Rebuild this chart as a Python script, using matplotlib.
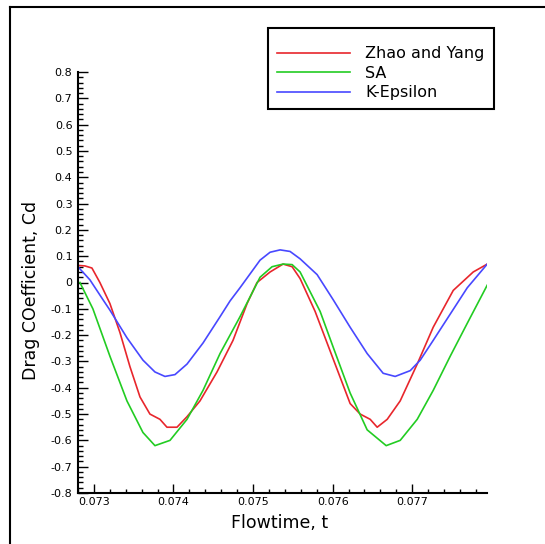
import matplotlib
matplotlib.use('Agg')
import matplotlib.pyplot as plt
from matplotlib.lines import Line2D
from matplotlib.ticker import MultipleLocator, FuncFormatter

plt.rcParams['font.family'] = ['DejaVu Sans']
plt.rcParams['axes.unicode_minus'] = False

# Zhao and Yang
t_zy = [0.072799, 0.072887, 0.072975, 0.073075, 0.073201, 0.073327, 0.073453, 0.073579,
        0.073704, 0.073830, 0.073918, 0.074044, 0.074170, 0.074333, 0.074547, 0.074748,
        0.074925, 0.075050, 0.075214, 0.075377, 0.075491, 0.075591, 0.075780, 0.076006,
        0.076220, 0.076346, 0.076472, 0.076560, 0.076686, 0.076849, 0.077063, 0.077264,
        0.077516, 0.077767, 0.077943]
cd_zy = [0.065, 0.063, 0.055, 0.0, -0.08, -0.19, -0.32, -0.435,
         -0.5, -0.52, -0.55, -0.55, -0.51, -0.45, -0.34, -0.22,
         -0.08, 0.0, 0.04, 0.07, 0.06, 0.015, -0.11, -0.29,
         -0.46, -0.5, -0.52, -0.55, -0.52, -0.45, -0.31, -0.17,
         -0.03, 0.04, 0.07]

# SA
t_sa = [0.072824, 0.072987, 0.073201, 0.073415, 0.073616, 0.073767, 0.073956, 0.074170,
        0.074371, 0.074585, 0.074836, 0.075088, 0.075239, 0.075377, 0.075491, 0.075591,
        0.075843, 0.076006, 0.076220, 0.076434, 0.076673, 0.076849, 0.077063, 0.077264,
        0.077478, 0.077692, 0.077943]
cd_sa = [0.0, -0.1, -0.28, -0.45, -0.57, -0.62, -0.6, -0.52,
         -0.41, -0.27, -0.13, 0.02, 0.06, 0.07, 0.068, 0.04,
         -0.11, -0.245, -0.42, -0.56, -0.62, -0.6, -0.52, -0.41,
         -0.28, -0.155, -0.01]

# K-Epsilon
t_ke = [0.072799, 0.072950, 0.073113, 0.073201, 0.073415, 0.073616, 0.073767, 0.073893,
        0.074019, 0.074170, 0.074371, 0.074585, 0.074711, 0.074836, 0.075088, 0.075214,
        0.075340, 0.075465, 0.075591, 0.075805, 0.076006, 0.076220, 0.076434, 0.076635,
        0.076786, 0.076975, 0.077101, 0.077264, 0.077478, 0.077692, 0.077943]
cd_ke = [0.06, 0.01, -0.065, -0.105, -0.21, -0.295, -0.34, -0.357,
         -0.35, -0.31, -0.23, -0.13, -0.07, -0.02, 0.085, 0.115,
         0.124, 0.118, 0.09, 0.03, -0.065, -0.17, -0.27, -0.345,
         -0.357, -0.335, -0.295, -0.22, -0.12, -0.02, 0.07]

fig = plt.figure(figsize=(5.45, 5.44), dpi=100)
ax = fig.add_axes([78/545, 1-493/544, 409/545, 421/544])

ax.plot(t_zy, cd_zy, color='#e8262c', lw=1.2, label='Zhao and Yang')
ax.plot(t_sa, cd_sa, color='#22cc22', lw=1.2, label='SA')
ax.plot(t_ke, cd_ke, color='#4848ff', lw=1.2, label='K-Epsilon')

ax.set_xlim(0.0728, 0.07794)
ax.set_ylim(-0.8, 0.8)
ax.spines['top'].set_visible(False)
ax.spines['right'].set_visible(False)
ax.spines['left'].set_linewidth(1.5)
ax.spines['bottom'].set_linewidth(1.5)

ax.xaxis.set_major_locator(MultipleLocator(0.001))
ax.xaxis.set_minor_locator(MultipleLocator(0.0002))
ax.yaxis.set_major_locator(MultipleLocator(0.1))
ax.yaxis.set_minor_locator(MultipleLocator(0.02))
ax.xaxis.set_major_formatter(FuncFormatter(lambda v, p: '%.3f' % v))
ax.yaxis.set_major_formatter(FuncFormatter(lambda v, p: '0' if abs(v) < 1e-9 else ('%.1f' % v)))

ax.tick_params(axis='y', which='major', direction='in', length=7, width=1, labelsize=8, pad=4)
ax.tick_params(axis='y', which='minor', direction='in', length=3.5, width=1)
ax.tick_params(axis='x', which='major', direction='in', length=6.2, width=1, labelsize=8, pad=3)
ax.tick_params(axis='x', which='minor', direction='in', length=3, width=1)

ax.set_xlabel('Flowtime, t', fontsize=12.5)
ax.set_ylabel('Drag COefficient, Cd', fontsize=12.5)
ax.xaxis.set_label_coords(0.494, -0.05)
ax.yaxis.set_label_coords(-0.093, 0.48)

leg = ax.legend(loc='upper left', bbox_to_anchor=(268/545, 1-28/544), bbox_transform=fig.transFigure,
                fontsize=11.5, title=' ', title_fontsize=3.5, borderpad=0.55, borderaxespad=0,
                handlelength=4.6, handletextpad=0.95, labelspacing=0.28,
                fancybox=False, edgecolor='black', framealpha=1)
leg.get_frame().set_linewidth(1.5)

# border round the figure (top and left)
fig.add_artist(Line2D([10/545, 1], [1-7/544, 1-7/544], color='black', lw=1.5, transform=fig.transFigure))
fig.add_artist(Line2D([10/545, 10/545], [0, 1-7/544], color='black', lw=1.5, transform=fig.transFigure))

fig.savefig('out.png', dpi=100)
